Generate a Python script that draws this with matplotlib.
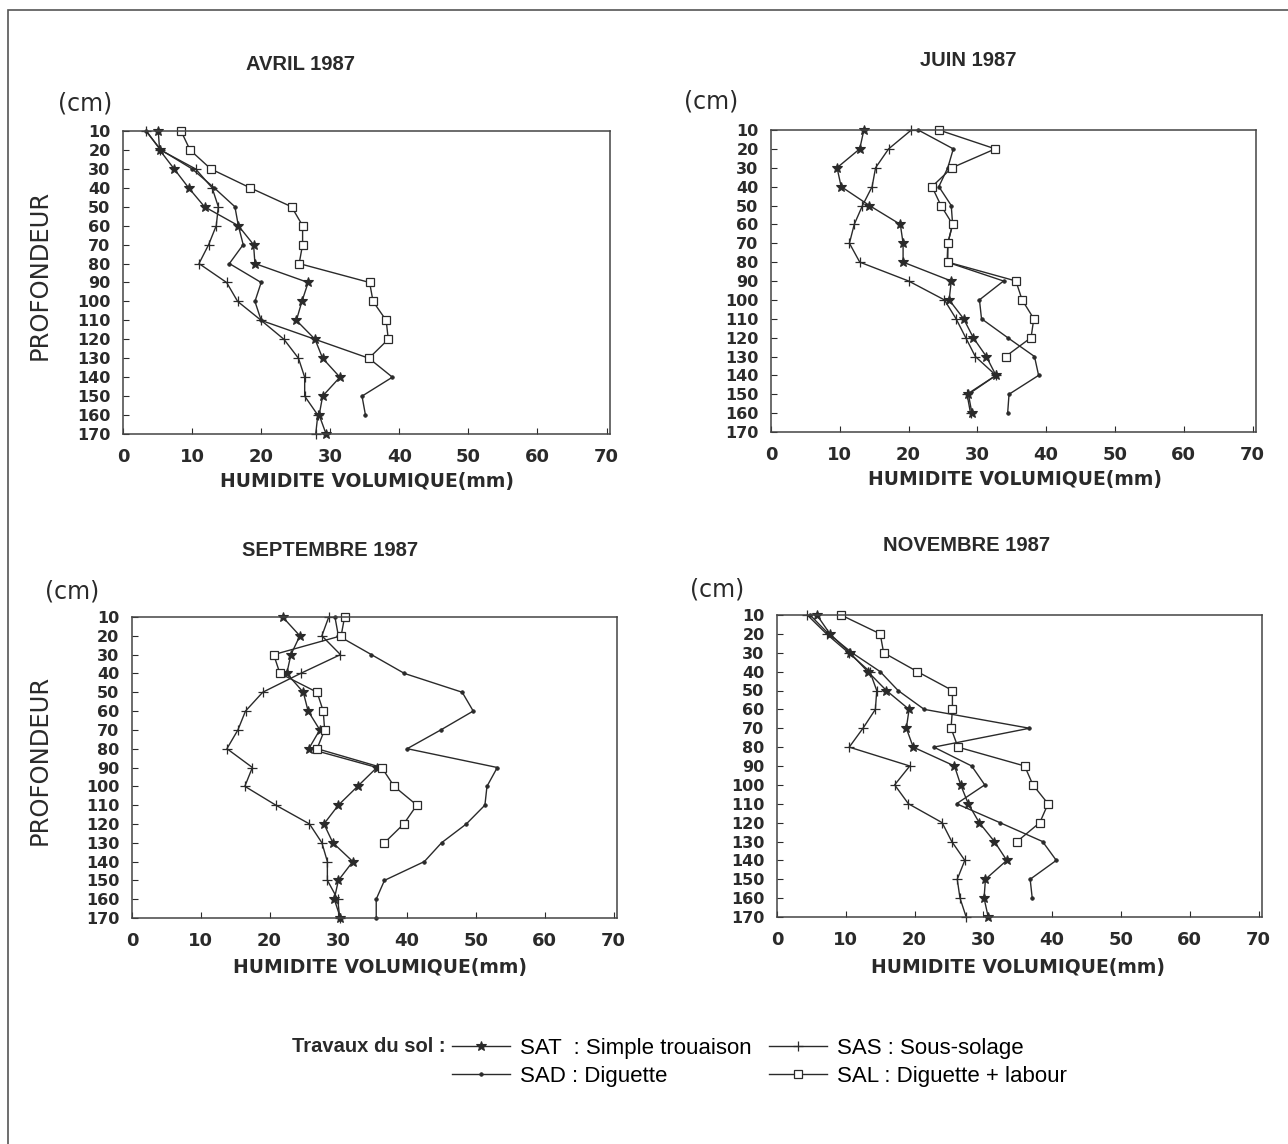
import numpy as np
import matplotlib
matplotlib.use("Agg")
import matplotlib.pyplot as plt
from matplotlib.lines import Line2D
from matplotlib.patches import Rectangle

nan = np.nan
depths = [10, 20, 30, 40, 50, 60, 70, 80, 90, 100, 110, 120, 130, 140, 150, 160, 170]
xticks = [0, 10, 20, 30, 40, 50, 60, 70]

# AVRIL 1987
avr_sat = [5.1, 5.3, 7.4, 9.5, 11.8, 16.7, 18.9, 19.1, 26.8, 25.9, 25.1, 27.8, 28.9, 31.4, 28.9, 28.4, 29.4]
avr_sad = [3.3, 5.5, 10.0, 13.2, 16.2, 16.7, 17.4, 15.4, 20.0, 19.1, 20.0, 27.8, 35.6, 39.0, 34.6, 35.1, nan]
avr_sas = [3.4, 5.4, 10.5, 12.9, 13.8, 13.5, 12.4, 11.0, 15.0, 16.6, 20.0, 23.3, 25.4, 26.3, 26.3, 28.2, 27.9]
avr_sal = [8.4, 9.7, 12.7, 18.4, 24.4, 26.0, 26.0, 25.5, 35.7, 36.2, 38.1, 38.4, 35.6, nan, nan, nan, nan]

# JUIN 1987
jun_sat = [13.5, 12.9, 9.6, 10.2, 14.3, 18.8, 19.2, 19.2, 26.2, 25.9, 28.0, 29.4, 31.3, 32.7, 28.7, 29.2, nan]
jun_sad = [21.4, 26.5, 25.7, 24.4, 26.2, 26.4, 25.7, 25.6, 33.8, 30.3, 30.6, 34.4, 38.3, 38.9, 34.6, 34.4, nan]
jun_sas = [20.4, 17.1, 15.2, 14.7, 13.3, 12.1, 11.4, 12.9, 20.0, 25.2, 26.9, 28.3, 29.7, 32.7, 28.5, 29.0, nan]
jun_sal = [24.4, 32.6, 26.3, 23.4, 24.7, 26.4, 25.7, 25.7, 35.6, 36.5, 38.2, 37.8, 34.1, nan, nan, nan, nan]

# SEPTEMBRE 1987
sep_sat = [21.9, 24.4, 23.1, 22.5, 24.9, 25.6, 27.3, 25.7, 35.6, 32.8, 30.0, 27.9, 29.2, 32.1, 30.0, 29.4, 30.3]
sep_sad = [29.5, 30.0, 34.8, 39.6, 48.0, 49.6, 44.9, 40.0, 53.1, 51.6, 51.3, 48.6, 45.0, 42.5, 36.7, 35.5, 35.5]
sep_sas = [28.6, 27.6, 30.3, 24.5, 19.0, 16.5, 15.4, 13.8, 17.5, 16.4, 20.9, 25.8, 27.6, 28.4, 28.4, 29.9, 30.2]
sep_sal = [30.9, 30.4, 20.6, 21.5, 26.9, 27.8, 28.0, 26.9, 36.3, 38.1, 41.4, 39.5, 36.7, nan, nan, nan, nan]

# NOVEMBRE 1987
nov_sat = [5.8, 7.7, 10.6, 13.2, 15.9, 19.2, 18.8, 19.8, 25.8, 26.7, 27.8, 29.4, 31.6, 33.4, 30.3, 30.1, 30.7]
nov_sad = [4.8, 7.5, 10.9, 15.0, 17.6, 21.4, 36.7, 22.8, 28.3, 30.2, 26.1, 32.4, 38.6, 40.6, 36.8, 37.1, nan]
nov_sas = [4.4, 7.2, 10.4, 13.5, 14.5, 14.3, 12.5, 10.5, 19.3, 17.1, 19.1, 24.0, 25.4, 27.3, 26.2, 26.6, 27.5]
nov_sal = [9.3, 15.0, 15.5, 20.4, 25.5, 25.5, 25.3, 26.3, 36.0, 37.2, 39.4, 38.2, 34.9, nan, nan, nan, nan]

titles = ["AVRIL 1987", "JUIN 1987", "SEPTEMBRE 1987", "NOVEMBRE 1987"]
labels = ["SAT  : Simple trouaison", "SAD : Diguette", "SAS : Sous-solage", "SAL : Diguette + labour"]
xlabel = "HUMIDITE VOLUMIQUE(mm)"
ylabel = "PROFONDEUR"
unit = "(cm)"

W, H = 1288, 1144
fig = plt.figure(figsize=(W / 100, H / 100), dpi=100)
fig.patch.set_facecolor("white")
INK = "#2a2a2a"

def fx(px):
    return px / W

def fy(py):
    return 1 - py / H

# outer frame
fig.patches.append(Rectangle((fx(8), -0.01), 1.0, fy(10) + 0.01, transform=fig.transFigure,
                             fill=False, edgecolor="#555555", linewidth=1.2))

styles = [
    dict(marker="*", markersize=7, markerfacecolor=INK, markeredgecolor=INK, markeredgewidth=0.8),
    dict(marker="o", markersize=2.6, markerfacecolor=INK, markeredgecolor=INK, markeredgewidth=0.5),
    dict(marker="+", markersize=7, markeredgecolor=INK, markeredgewidth=0.9),
    dict(marker="s", markersize=6, markerfacecolor="white", markeredgecolor=INK, markeredgewidth=0.9),
]

panels = [
    # (left, top, right, bottom) px, data, title pos, show ylabel, unit pos, xlabel pos
    ((123, 131, 610, 434), [avr_sat, avr_sad, avr_sas, avr_sal], (300, 65), True, (85, 103), (367, 481)),
    ((771, 130, 1256, 432), [jun_sat, jun_sad, jun_sas, jun_sal], (968, 60), False, (711, 102), (1015, 480)),
    ((132, 617, 617, 918), [sep_sat, sep_sad, sep_sas, sep_sal], (330, 550), True, (72, 592), (380, 968)),
    ((777, 615, 1262, 917), [nov_sat, nov_sad, nov_sas, nov_sal], (967, 545), False, (717, 590), (1018, 967)),
]

for idx, ((l, t, r, b), series, tpos, showy, upos, xpos) in enumerate(panels):
    ax = fig.add_axes([fx(l), fy(b), fx(r - l), (b - t) / H])
    for vals, st in zip(series, styles):
        ax.plot(vals, depths, color=INK, linewidth=1.0, clip_on=False, **st)
    ax.set_xlim(0, 70.5)
    ax.set_ylim(170, 10)
    ax.set_xticks(xticks)
    ax.set_yticks(depths)
    ax.set_xticklabels([str(v) for v in xticks], fontsize=13, fontweight="bold",
                       family="DejaVu Sans", color=INK)
    ax.set_yticklabels([str(v) for v in depths], fontsize=11.5, fontweight="bold",
                       family="DejaVu Sans", color=INK)
    ax.tick_params(axis="y", direction="in", length=4, width=0.8, pad=9, colors=INK)
    ax.tick_params(axis="x", direction="in", length=4, width=0.8, pad=10, colors=INK)
    for s in ax.spines.values():
        s.set_linewidth(1.1)
        s.set_color("#444444")
    fig.text(fx(tpos[0]), fy(tpos[1]), titles[idx], ha="center", va="center",
             fontsize=14.5, fontweight="bold", family="Liberation Sans", color=INK)
    fig.text(fx(upos[0]), fy(upos[1]), unit, ha="center", va="center",
             fontsize=17, family="DejaVu Sans", color=INK)
    fig.text(fx(xpos[0]), fy(xpos[1]), xlabel, ha="center", va="center",
             fontsize=13.5, fontweight="bold", family="DejaVu Sans", color=INK)
    if showy:
        fig.text(fx(40), fy((t + b) / 2 - 8), ylabel, ha="center", va="center", rotation=90,
                 fontsize=17.5, family="DejaVu Sans", color=INK)

handles = [Line2D([], [], color=INK, linewidth=1.0, **st) for st in styles]
fig.legend(handles, labels, ncol=2, loc="upper left", bbox_to_anchor=(fx(441), fy(1027)),
           frameon=False, prop={"family": "Liberation Sans", "size": 16},
           handlelength=2.6, handletextpad=0.45, columnspacing=0.8, labelspacing=0.3,
           borderpad=0.0)
fig.text(fx(446), fy(1046), "Travaux du sol :", ha="right", va="center",
         fontsize=14.5, fontweight="bold", family="Liberation Sans", color=INK)

fig.savefig("out.png", dpi=100, facecolor="white")
